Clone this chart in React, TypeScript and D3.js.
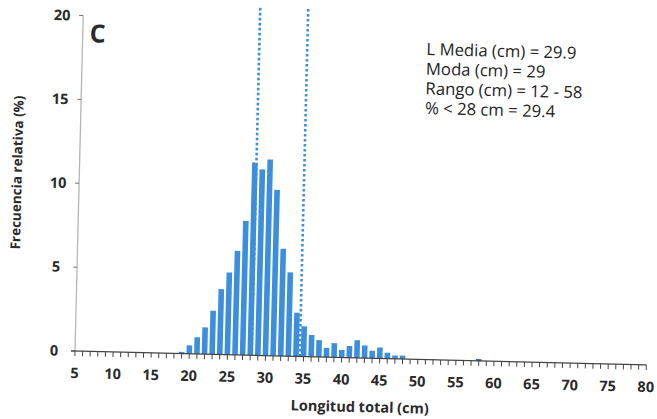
import * as d3 from "d3";

// longitud total (cm) y frecuencia relativa (%)
const lengths = [19, 20, 21, 22, 23, 24, 25, 26, 27, 28, 29, 30, 31, 32, 33, 34, 35, 36, 37, 38, 39, 40, 41, 42, 43, 44, 45, 46, 47, 48, 58];
const freqs = [0.1, 0.5, 1.0, 1.6, 2.6, 3.9, 4.9, 6.2, 8.0, 11.5, 11.1, 11.7, 9.9, 6.4, 5.0, 2.6, 1.8, 1.3, 1.0, 0.55, 0.85, 0.45, 0.7, 1.05, 0.75, 0.45, 0.65, 0.35, 0.2, 0.2, 0.1];

const xTickLabels = [5, 10, 15, 20, 25, 30, 35, 40, 45, 50, 55, 60, 65, 70, 75, 80];
const xMinorTicks = d3.range(5, 81);
const yTickLabels = [0, 5, 10, 15, 20];

// lineas punteadas verticales
const refLines = [28.2, 34.5];
const refTop = 20.8;

const statLines = ["L Media (cm) = 29.9", "Moda (cm) = 29", "Rango (cm) = 12 - 58", "% < 28 cm = 29.4"];

const W = 657;
const H = 419;
const ox = 75;
const oy = 351;
const tilt = 1.4; // la figura escaneada esta ligeramente girada

const BAR = "#3d8fdb";
const font = "'Open Sans', 'Liberation Sans', sans-serif";

export default function App() {
  const x = d3.scaleLinear().domain([5, 80]).range([ox, 646.5]);
  const y = d3.scaleLinear().domain([0, 20]).range([oy, 15.5]);
  const bw = 5.6;

  return (
    <svg width={W} height={H} style={{ position: "absolute", left: 0, top: 0, background: "#fff" }}>
      <g transform={`rotate(${tilt}, ${ox}, ${oy})`} fontFamily={font}>
        {/* barras */}
        {lengths.map((l, i) => (
          <rect
            key={l}
            x={x(l) - bw / 2}
            y={y(freqs[i])}
            width={bw}
            height={y(0) - y(freqs[i])}
            fill={l === 58 ? "#1f5fb0" : BAR}
          />
        ))}

        {/* lineas de referencia */}
        {refLines.map((r) => (
          <line
            key={r}
            x1={x(r)}
            x2={x(r)}
            y1={y(0)}
            y2={y(refTop)}
            stroke={BAR}
            strokeWidth={2.6}
            strokeDasharray="2.6 2.4"
          />
        ))}

        {/* eje y */}
        <line x1={ox} x2={ox} y1={y(0)} y2={y(20)} stroke="#b5b5b5" strokeWidth={1.3} />
        {yTickLabels.map((t) => (
          <g key={t}>
            <line x1={ox - 4} x2={ox} y1={y(t)} y2={y(t)} stroke="#777" strokeWidth={1} />
            <text x={54} y={y(t)} dy="0.35em" textAnchor="middle" fontSize={14.5} fontWeight="bold" fill="#2a2a2a">
              {t}
            </text>
          </g>
        ))}

        {/* eje x */}
        <line x1={ox - 4} x2={x(80)} y1={oy} y2={oy} stroke="#444" strokeWidth={1.3} />
        {xMinorTicks.map((t) => (
          <line key={t} x1={x(t)} x2={x(t)} y1={oy} y2={oy + 5} stroke="#444" strokeWidth={1} />
        ))}
        {xTickLabels.map((t) => (
          <text key={t} x={x(t)} y={oy + 22} dy="0.35em" textAnchor="middle" fontSize={14.5} fontWeight="bold" fill="#2a2a2a">
            {t}
          </text>
        ))}

        <text x={361} y={405} textAnchor="middle" fontSize={14.5} fontWeight="bold" fill="#2a2a2a">
          Longitud total (cm)
        </text>
        <text
          transform={`translate(17.5, 174) rotate(-90)`}
          textAnchor="middle"
          fontSize={13.5}
          fontWeight="bold"
          fill="#2a2a2a"
        >
          Frecuencia relativa (%)
        </text>

        <text x={82} y={42} fontSize={25} fontWeight="bold" fill="#2a2a2a">
          C
        </text>

        {statLines.map((s, i) => (
          <text key={s} x={419} y={46.5 + i * 19.7} fontSize={16.7} fill="#222">
            {s}
          </text>
        ))}
      </g>
    </svg>
  );
}
